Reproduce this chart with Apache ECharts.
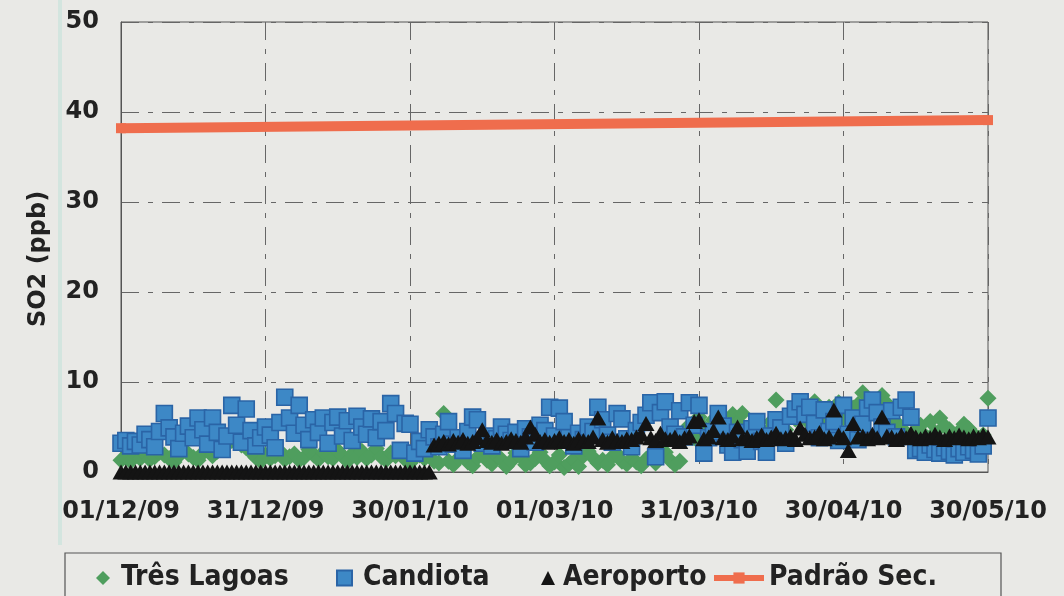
<!DOCTYPE html>
<html>
<head>
<meta charset="utf-8">
<script src="https://cdn.jsdelivr.net/npm/echarts@6/dist/echarts.min.js"></script>
<style>
html,body{margin:0;padding:0;background:#e9e9e6;}
#chart{width:1064px;height:596px;}
</style>
</head>
<body>
<div id="chart"></div>
<script>
// Tick labels of the date axis (every 30 days from 01/12/09)
const xTickLabels = ['01/12/09','31/12/09','30/01/10','01/03/10','31/03/10','30/04/10','30/05/10'];
const yTickValues = [0,10,20,30,40,50];

// Daily values, index = days since 01/12/09
const tresLagoas = [
  1.3,1.6,1.2,1.8,1.5,2.0,1.4,1.7,2.2,1.9,
  1.5,1.1,1.8,2.4,2.0,1.6,1.3,2.1,2.6,1.8,
  2.3,3.2,3.8,3.5,3.9,3.0,2.7,2.2,1.6,1.2,
  1.9,
  1.5,1.8,2.3,1.4,1.7,2.0,1.3,1.6,2.5,1.9,
  1.4,2.2,1.7,1.5,2.4,1.8,1.2,2.0,1.6,2.3,
  1.5,1.9,2.6,1.7,1.3,2.1,1.8,2.2,1.4,1.0,
  1.6,1.9,1.5,2.0,
  1.2,1.0,6.5,
  1.2,0.8,1.5,1.9,1.1,0.7,1.6,2.0,1.3,0.9,
  1.8,1.4,0.6,1.2,2.1,1.7,0.8,1.0,1.5,2.2,
  1.3,0.7,1.1,1.9,0.5,0.9,1.4,0.6,1.8,2.3,
  1.6,1.0,1.3,0.8,1.7,2.0,1.2,0.9,1.5,1.1,
  0.7,1.4,1.9,1.0,1.6,2.2,1.3,0.8,1.2,4.5,
  5.2,3.8,6.1,
  5.0,4.3,5.8,6.0,5.2,4.6,6.4,5.5,6.5,4.8,
  4.1,5.3,3.9,4.4,5.6,8.0,5.1,4.7,6.2,5.9,
  7.0,6.3,5.4,7.8,6.6,5.7,7.2,6.8,7.7,6.0,
  5.8,7.1,7.5,8.8,7.3,6.9,6.4,8.5,7.6,6.2,
  5.5,4.9,4.3,3.8,4.6,5.2,4.0,5.6,4.4,6.0,
  5.1,4.7,3.9,4.5,5.3,4.8,4.2,3.7,4.1,8.2
];

const candiota = [
  3.2,3.5,2.9,3.4,3.0,4.2,3.6,2.8,4.5,
  6.5,4.9,3.9,2.6,4.3,5.1,3.8,
  6.0,4.7,3.1,6.0,4.4,2.5,4.0,
  7.4,5.2,3.3,7.0,4.6,2.9,3.8,
  5.0,4.1,2.7,5.5,8.3,6.0,4.3,7.4,5.2,3.6,
  5.8,4.4,6.0,3.2,5.5,6.1,4.0,5.7,3.5,6.2,
  5.0,4.2,5.9,3.8,5.6,4.6,7.6,6.5,2.4,5.4,
  5.3,2.1,3.4,2.6,4.7,
  3.9,2.8,4.2,5.6,3.1,3.8,2.4,4.5,
  6.1,5.8,3.2,4.0,2.9,3.7,5.0,4.2,
  3.5,4.4,2.6,4.8,3.9,3.3,5.2,4.6,7.2,4.0,
  7.1,5.6,3.8,2.9,4.3,3.6,5.0,4.5,7.2,5.8,
  4.1,3.3,6.5,5.9,3.7,2.8,4.6,5.5,6.3,7.7,
  1.7,6.6,7.8,5.0,4.2,6.8,3.9,7.7,5.2,7.4,
  2.1,3.8,4.5,6.5,5.1,3.0,2.2,4.4,3.6,2.3,
  4.8,5.6,3.4,2.2,4.0,5.8,4.9,3.2,6.2,7.0,
  7.8,6.4,7.2,5.4,3.8,6.9,4.5,5.6,3.5,7.4,
  4.2,6.0,3.6,5.3,7.1,8.0,6.6,5.0,4.4,6.8,
  3.9,7.2,8.0,6.1,2.4,2.6,2.2,3.0,2.5,2.1,
  2.7,2.3,1.9,2.6,2.2,2.8,2.4,2.0,2.9,6.0
];

const aeroporto = [
  0,0,0,0,0,0,0,0,0,0, 0,0,0,0,0,0,0,0,0,0,
  0,0,0,0,0,0,0,0,0,0, 0,0,0,0,0,0,0,0,0,0,
  0,0,0,0,0,0,0,0,0,0, 0,0,0,0,0,0,0,0,0,0,
  0,0,0,0,0,
  3.0,3.2,3.4,3.1,3.5,3.3,3.6,3.2,3.4,3.8,
  4.7,3.5,3.3,3.6,3.2,3.4,3.7,3.5,3.3,3.9,
  5.0,4.2,3.4,3.6,3.3,3.5,3.8,3.4,3.6,3.2,
  3.7,3.5,3.4,3.9,6.0,3.6,3.3,3.8,3.5,3.4,
  3.7,3.6,3.9,4.2,5.4,3.8,3.5,4.3,3.7,3.6,
  3.9,3.4,3.8,4.0,5.6,5.8,3.7,3.9,4.6,6.1,
  3.8,3.6,4.0,5.0,3.7,3.9,3.5,3.8,4.1,3.6,
  3.9,4.3,3.7,3.8,4.0,3.6,4.9,4.2,3.8,3.9,
  4.4,3.7,3.9,6.9,4.1,3.8,2.4,5.4,3.9,4.0,
  3.7,4.2,3.8,6.1,4.0,3.9,3.6,4.1,3.8,4.3,
  3.9,3.7,4.0,3.8,4.2,3.9,3.6,4.0,3.8,4.1,
  3.9,3.7,4.0,3.8,4.1,3.9
];

const padraoDays = [0, 180];
const padraoSec = [38.2, 39.1];

const seriesNames = ['Três Lagoas','Candiota','Aeroporto','Padrão Sec.'];

function toPairs(arr){ return arr.map((v,i)=>[i,v]); }

const chart = echarts.init(document.getElementById('chart'), null, {renderer:'canvas'});
const axisFont = {fontFamily:'DejaVu Sans', fontWeight:'bold', fontSize:24, color:'#222'};
const legFont = {fontFamily:'DejaVu Sans Condensed, DejaVu Sans', fontWeight:'bold', fontSize:28, color:'#222'};
const gridLine = {show:true, lineStyle:{color:'#666', width:1, type:[18,9,5,9]}};

chart.setOption({
  backgroundColor:'#e9e9e6',
  animation:false,
  graphic:[
    {type:'rect', shape:{x:58, y:0, width:4, height:545}, style:{fill:'#d3e5df'}, silent:true, z:-1},
    {type:'rect', shape:{x:65, y:553, width:936, height:60}, style:{fill:'none', stroke:'#555', lineWidth:1.2}, silent:true}
  ],
  grid:{left:121, right:76, top:22, bottom:124, show:true, borderColor:'#555', borderWidth:1, backgroundColor:'transparent'},
  xAxis:{
    type:'value', min:0, max:180, interval:30,
    axisLine:{show:true, lineStyle:{color:'#555', width:1}},
    axisTick:{show:false},
    splitLine:gridLine,
    axisLabel:Object.assign({margin:28, formatter:(v)=>xTickLabels[Math.round(v/30)] || ''}, axisFont)
  },
  yAxis:{
    type:'value', min:yTickValues[0], max:yTickValues[yTickValues.length-1], interval:10,
    name:'SO2 (ppb)', nameLocation:'middle', nameGap:70, nameRotate:90,
    nameTextStyle:Object.assign({padding:[0,24,0,0]}, axisFont),
    axisLine:{show:true, lineStyle:{color:'#555', width:1}},
    axisTick:{show:false},
    splitLine:gridLine,
    axisLabel:Object.assign({margin:22}, axisFont)
  },
  legend:[
    {data:[seriesNames[0]], left:96, top:564, padding:0, itemWidth:14, itemHeight:14, textStyle:Object.assign({padding:[0,0,0,6]}, legFont)},
    {data:[seriesNames[1]], left:336, top:564, padding:0, itemWidth:15, itemHeight:15, textStyle:Object.assign({padding:[0,0,0,6]}, legFont)},
    {data:[seriesNames[2]], left:541, top:564, padding:0, itemWidth:14, itemHeight:14, textStyle:Object.assign({padding:[0,0,0,3]}, legFont)},
    {data:[seriesNames[3]], left:711, top:564, padding:0, itemWidth:50, itemHeight:14, lineStyle:{width:6}, textStyle:Object.assign({padding:[0,0,0,0]}, legFont)}
  ],
  series:[
    {name:seriesNames[0], type:'scatter', symbol:'diamond', symbolSize:[17,17],
     itemStyle:{color:'#4f9e5e', opacity:1}, data:toPairs(tresLagoas), z:2},
    {name:seriesNames[1], type:'scatter', symbol:'rect', symbolSize:16,
     itemStyle:{color:'#3d88c6', borderColor:'#2a64a6', borderWidth:1.6, opacity:1}, data:toPairs(candiota), z:3},
    {name:seriesNames[2], type:'scatter', symbol:'triangle', symbolSize:[17,15],
     itemStyle:{color:'#141414', opacity:1}, data:toPairs(aeroporto), z:4},
    {name:seriesNames[3], type:'line', symbol:'rect', symbolSize:10, showSymbol:true,
     lineStyle:{color:'#ef6d4d', width:10}, itemStyle:{color:'#ef6d4d'},
     data:padraoDays.map((d,i)=>[d, padraoSec[i]]), z:5, clip:false}
  ]
});
</script>
</body>
</html>
